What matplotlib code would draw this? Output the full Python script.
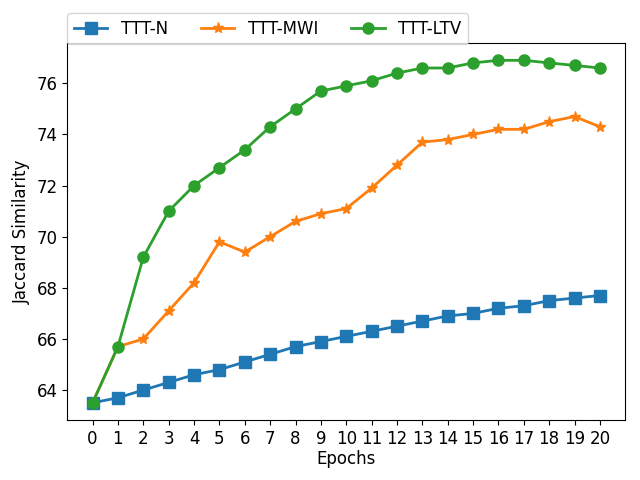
import matplotlib
matplotlib.use('Agg')
import matplotlib.pyplot as plt

epochs = list(range(21))
ttt_n = [63.5, 63.7, 64.0, 64.3, 64.6, 64.8, 65.1, 65.4, 65.7, 65.9, 66.1,
         66.3, 66.5, 66.7, 66.9, 67.0, 67.2, 67.3, 67.5, 67.6, 67.7]
ttt_mwi = [63.5, 65.7, 66.0, 67.1, 68.2, 69.8, 69.4, 70.0, 70.6, 70.9, 71.1,
           71.9, 72.8, 73.7, 73.8, 74.0, 74.2, 74.2, 74.5, 74.7, 74.3]
ttt_ltv = [63.5, 65.7, 69.2, 71.0, 72.0, 72.7, 73.4, 74.3, 75.0, 75.7, 75.9,
           76.1, 76.4, 76.6, 76.6, 76.8, 76.9, 76.9, 76.8, 76.7, 76.6]

fig, ax = plt.subplots(figsize=(6.4, 4.8), dpi=100)
ax.plot(epochs, ttt_n, marker='s', markersize=8, linewidth=2, label='TTT-N')
ax.plot(epochs, ttt_mwi, marker='*', markersize=8, linewidth=2, label='TTT-MWI')
ax.plot(epochs, ttt_ltv, marker='o', markersize=8, linewidth=2, label='TTT-LTV')

ax.set_xticks(epochs)
ax.tick_params(labelsize=12)
ax.set_xlabel('Epochs', fontsize=12, labelpad=2)
ax.set_ylabel('Jaccard Similarity', fontsize=12)
ax.legend(loc='upper left', bbox_to_anchor=(0, 1.08), ncol=3, fontsize=12,
          borderaxespad=0)

plt.subplots_adjust(left=0.105, right=0.977, bottom=0.125, top=0.91)
plt.savefig('out.png')
